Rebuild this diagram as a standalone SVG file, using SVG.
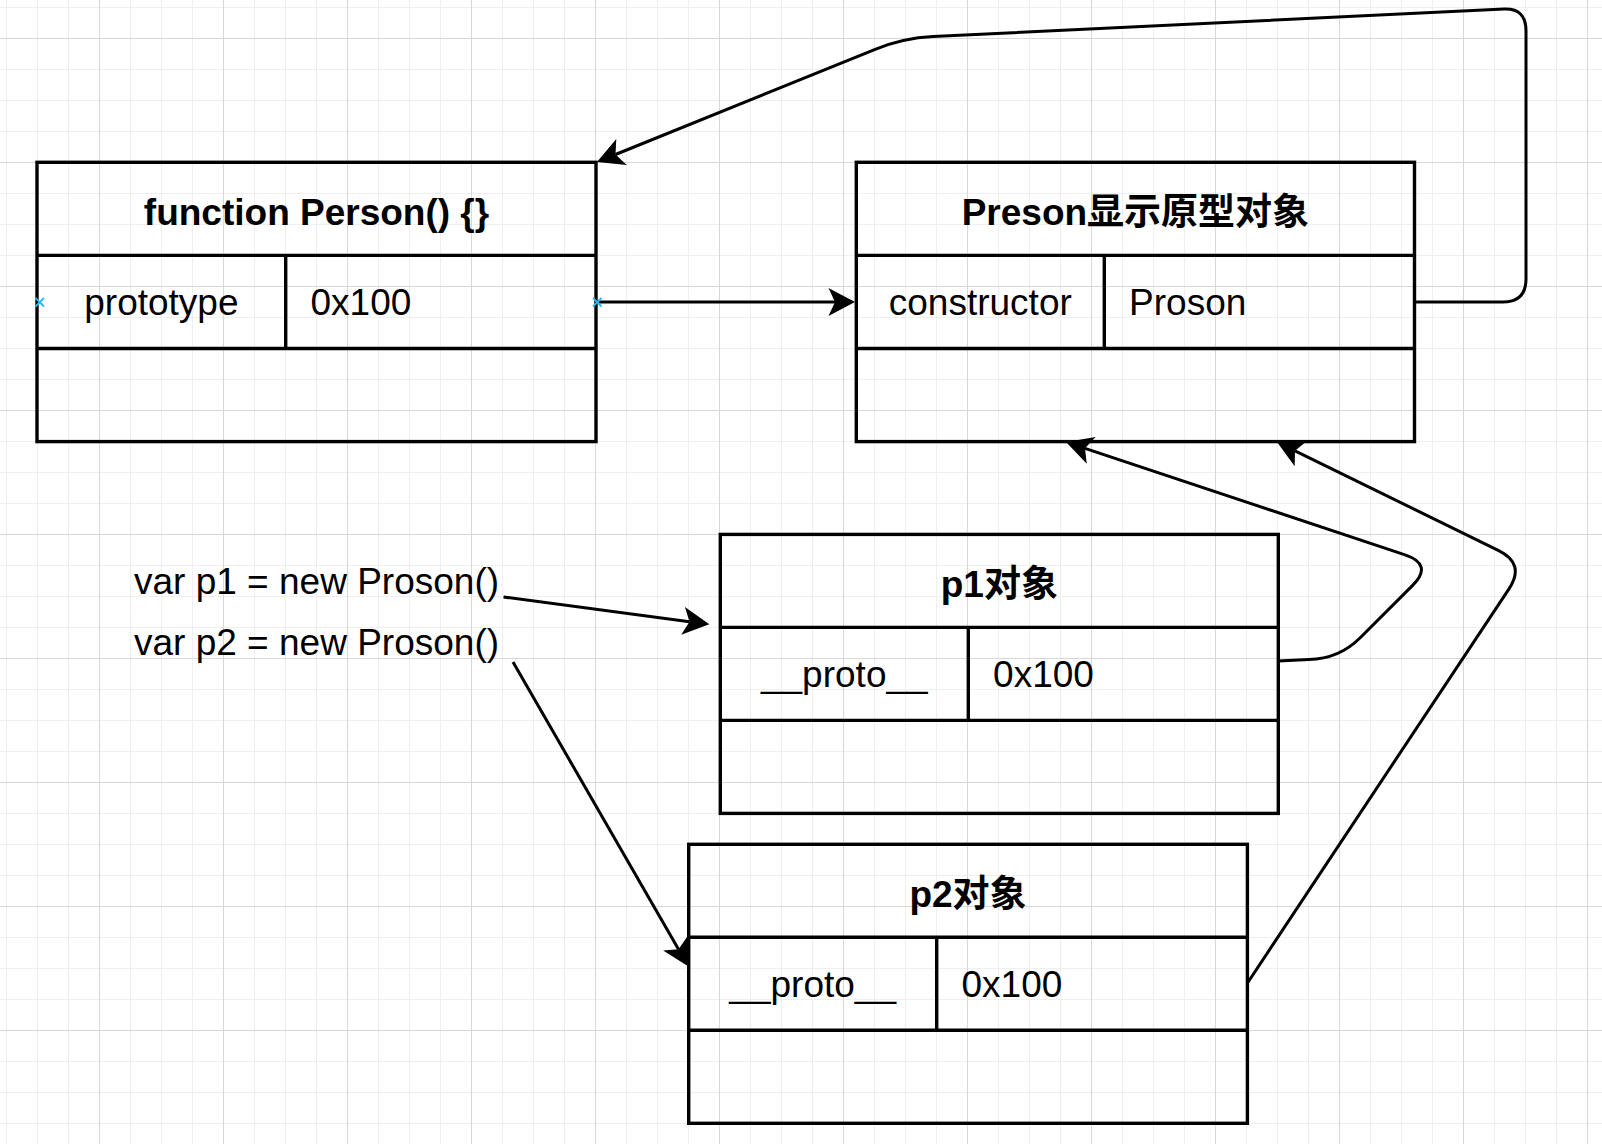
<svg xmlns="http://www.w3.org/2000/svg" width="1602" height="1144" viewBox="0 0 1602 1144">
  <defs>
    <pattern id="grid" x="-25" y="38" width="124" height="124" patternUnits="userSpaceOnUse">
      <path d="M31.5 0V124M62.5 0V124M93.5 0V124M0 31.5H124M0 62.5H124M0 93.5H124" stroke="#efefef" stroke-width="1" fill="none"/>
      <path d="M0.5 0V124M0 0.5H124" stroke="#d8d8d8" stroke-width="1" fill="none"/>
    </pattern>
    <marker id="arrow" markerUnits="userSpaceOnUse" orient="auto" viewBox="-30 -20 40 40" refX="-20" refY="0" markerWidth="40" markerHeight="40" overflow="visible">
      <path d="M0,0 L-26.5,-14 L-20,0 L-26.5,14 Z" fill="#000"/>
    </marker>
    <style>
      .box { fill: none; stroke: #000; stroke-width: 3.4; }
      .sep { stroke: #000; stroke-width: 3.4; fill: none; }
      .edge { fill: none; stroke: #000; stroke-width: 3; stroke-linejoin: round; marker-end: url(#arrow); }
      .hdr { font-family: "Liberation Sans", "Noto Sans CJK SC", Arial, sans-serif; font-size: 37px; font-weight: bold; fill: #000; text-anchor: middle; }
      .cellc { font-family: "Liberation Sans", Arial, sans-serif; font-size: 37px; fill: #000; text-anchor: middle; }
      .celll { font-family: "Liberation Sans", Arial, sans-serif; font-size: 37px; fill: #000; text-anchor: start; }
      .hint { stroke: #29b6f2; stroke-width: 1.8; fill: none; }
    </style>
  </defs>

  <rect x="0" y="0" width="1602" height="1144" fill="#ffffff"/>
  <rect x="0" y="0" width="1602" height="1144" fill="url(#grid)"/>

  <g id="connectors">
    <path class="edge" d="M596,302 H835"/>
    <path class="edge" d="M1414.5,302 H1503 Q1526,302 1526,279 V31 Q1526,8 1504,9.1 L933,36.5 Q903,38 875.2,49.3 L615.5,154.5"/>
    <path class="edge" d="M1278.3,661 L1309,659.5 Q1339,659 1360.2,637.8 L1412.4,585.6 Q1433.6,564.4 1405.1,554.9 L1085,448.3"/>
    <path class="edge" d="M1247.5,983 L1509,588.8 Q1525.6,563.8 1498.7,550.6 L1295,450.8"/>
    <path class="edge" d="M503.5,597 L689.5,621.7"/>
    <path class="edge" d="M513,662 L678.5,949.2"/>
  </g>

  <g id="node-person-fn">
    <rect class="box" x="37" y="162.3" width="559" height="279.3"/>
    <path class="sep" d="M37,255.4 H596 M37,348.5 H596 M285.7,255.4 V348.5"/>
    <text class="hdr" x="316.5" y="225">function Person() {}</text>
    <text class="cellc" x="161.4" y="315">prototype</text>
    <text class="celll" x="310.5" y="315">0x100</text>
  </g>

  <g id="node-prototype-obj">
    <rect class="box" x="856.3" y="162.3" width="558.2" height="279.3"/>
    <path class="sep" d="M856.3,255.4 H1414.5 M856.3,348.5 H1414.5 M1104.3,255.4 V348.5"/>
    <text class="hdr" x="1135.4" y="225">Preson显示原型对象</text>
    <text class="cellc" x="980.3" y="315">constructor</text>
    <text class="celll" x="1129.1" y="315">Proson</text>
  </g>

  <g id="node-p1">
    <rect class="box" x="720.3" y="534.4" width="558" height="279"/>
    <path class="sep" d="M720.3,627.4 H1278.3 M720.3,720.4 H1278.3 M968.3,627.4 V720.4"/>
    <text class="hdr" x="999.3" y="597.2">p1对象</text>
    <text class="cellc" x="844.3" y="687.2">__proto__</text>
    <text class="celll" x="993.1" y="687.2">0x100</text>
  </g>

  <g id="node-p2">
    <rect class="box" x="688.7" y="844.3" width="558.7" height="279"/>
    <path class="sep" d="M688.7,937.3 H1247.4 M688.7,1030.3 H1247.4 M936.7,937.3 V1030.3"/>
    <text class="hdr" x="968" y="907.1">p2对象</text>
    <text class="cellc" x="812.7" y="997.1">__proto__</text>
    <text class="celll" x="961.5" y="997.1">0x100</text>
  </g>

  <g id="node-code">
    <text class="celll" x="134" y="594">var p1 = new Proson()</text>
    <text class="celll" x="134" y="655">var p2 = new Proson()</text>
  </g>

  <g id="hints">
    <path class="hint" d="M35.5,298 L44,306.5 M44,298 L35.5,306.5"/>
    <path class="hint" d="M593,298 L601.5,306.5 M601.5,298 L593,306.5"/>
  </g>
</svg>
